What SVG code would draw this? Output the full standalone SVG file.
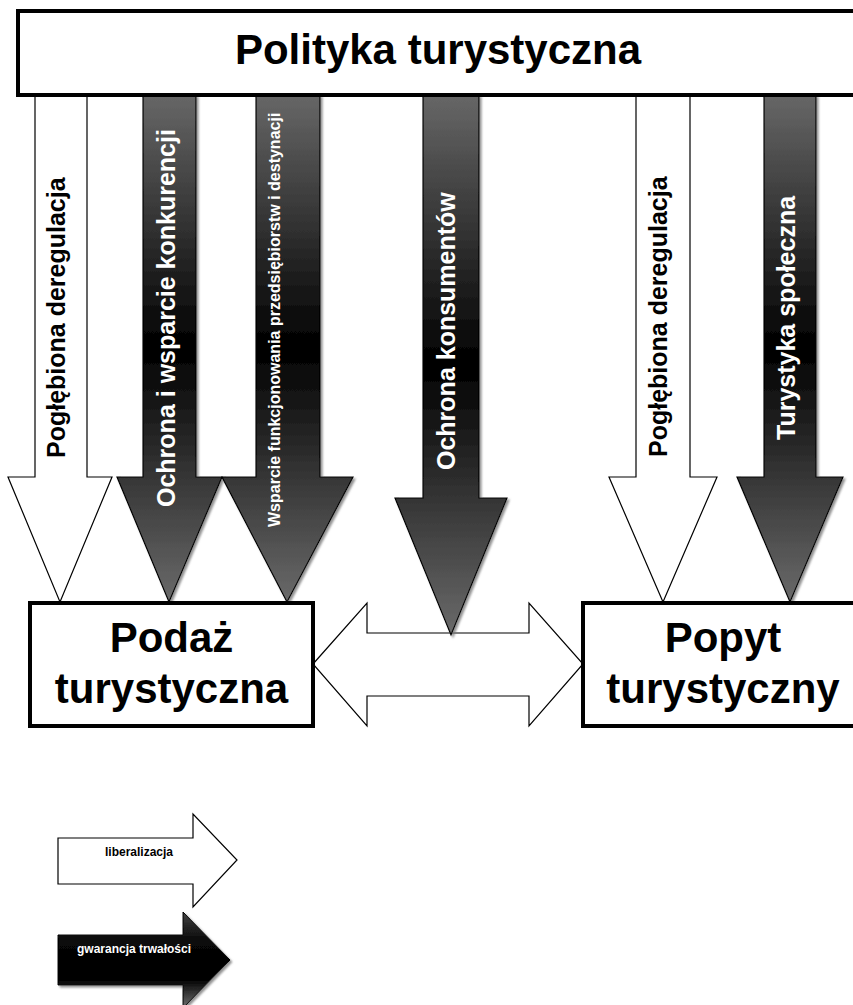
<svg xmlns="http://www.w3.org/2000/svg" width="853" height="1005" viewBox="0 0 853 1005">
<style>
.box{fill:#fff;stroke:#000;stroke-width:4}
.wa{fill:#fff;stroke:#000;stroke-width:1.2}
.da{fill:url(#dg);stroke:#000;stroke-width:1.2;filter:url(#sh)}
.big{font-family:"Liberation Sans",Arial,sans-serif;font-weight:bold;font-size:42px;text-anchor:middle;fill:#000}
.vt{font-family:"Liberation Sans",Arial,sans-serif;font-weight:bold;font-size:25px}
.lg{font-family:"Liberation Sans",Arial,sans-serif;font-weight:bold;font-size:12px;text-anchor:middle}
</style>
<defs>
<linearGradient id="dg" x1="0" y1="0" x2="0" y2="1">
<stop offset="0" stop-color="#676767"/>
<stop offset="0.5" stop-color="#000"/>
<stop offset="1" stop-color="#6a6a6a"/>
</linearGradient>
<linearGradient id="lg2" x1="0" y1="0" x2="0" y2="1">
<stop offset="0" stop-color="#444"/>
<stop offset="0.3" stop-color="#080808"/>
<stop offset="0.7" stop-color="#000"/>
<stop offset="1" stop-color="#707070"/>
</linearGradient>
<filter id="sh" x="-10%" y="-5%" width="130%" height="115%">
<feDropShadow dx="2" dy="2" stdDeviation="1" flood-color="#777" flood-opacity="0.8"/>
</filter>
</defs>

<g id="connectors">
<g id="arrow-deregulacja-1"><polygon class="wa" points="35,95 87,95 87,477 112,477 60,602 8,477 35,477"/>
<text class="vt" fill="#000" transform="translate(65,458) rotate(-90)">Pogłębiona deregulacja</text></g>
<g id="arrow-konkurencja"><polygon class="da" points="143,95 196,95 196,477 222,477 169,602 117,477 143,477"/>
<text class="vt" fill="#fff" transform="translate(175,507) rotate(-90)">Ochrona i wsparcie konkurencji</text></g>
<g id="arrow-wsparcie"><polygon class="da" points="256,95 320,95 320,477 353,477 287,602 222,477 256,477"/>
<text class="vt" fill="#fff" style="font-size:16px" transform="translate(280,527) rotate(-90)">Wsparcie funkcjonowania przedsiębiorstw i destynacji</text></g>
<g id="arrow-double"><polygon class="wa" points="313,664 367,603 367,633 529,633 529,603 583,664 529,726 529,696 367,696 367,726"/></g>
<g id="arrow-konsumenci"><polygon class="da" points="423,95 479,95 479,498 507,498 451,635 395,498 423,498"/>
<text class="vt" fill="#fff" transform="translate(455,470) rotate(-90)">Ochrona konsumentów</text></g>
<g id="arrow-deregulacja-2"><polygon class="wa" points="636,95 690,95 690,477 717,477 663,602 609,477 636,477"/>
<text class="vt" fill="#000" transform="translate(667,457) rotate(-90)">Pogłębiona deregulacja</text></g>
<g id="arrow-turystyka"><polygon class="da" points="764,95 816,95 816,477 843,477 790,602 737,477 764,477"/>
<text class="vt" fill="#fff" transform="translate(795,440) rotate(-90)">Turystyka społeczna</text></g>
</g>

<g id="polityka">
<rect class="box" x="18" y="11" width="850" height="84"/>
<text class="big" x="438" y="64">Polityka turystyczna</text>
</g>

<g id="podaz">
<rect class="box" x="30" y="603" width="283" height="123"/>
<text class="big" x="171.5" y="652">Podaż</text>
<text class="big" x="171.5" y="703">turystyczna</text>
</g>

<g id="popyt">
<rect class="box" x="583" y="603" width="290" height="123"/>
<text class="big" x="723" y="652">Popyt</text>
<text class="big" x="723" y="703">turystyczny</text>
</g>

<g id="legend-liberalizacja">
<polygon class="wa" points="58,838 193,838 193,814 237,860 193,907 193,884 58,884"/>
<text class="lg" x="139" y="856" fill="#000">liberalizacja</text>
</g>
<g id="legend-gwarancja">
<polygon points="58,935 183,935 183,912 230,960 183,1008 183,985 58,985" fill="url(#lg2)" stroke="#000" stroke-width="1" filter="url(#sh)"/>
<text class="lg" x="134" y="953" fill="#fff">gwarancja trwałości</text>
</g>
</svg>
